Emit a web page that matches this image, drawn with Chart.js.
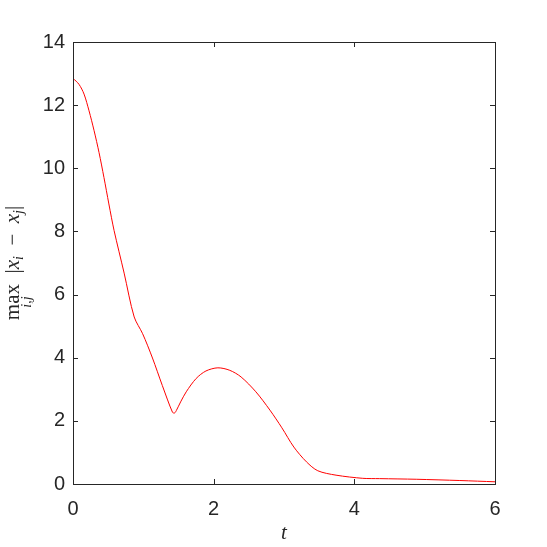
<!DOCTYPE html>
<html>
<head>
<meta charset="utf-8">
<script src="https://cdn.jsdelivr.net/npm/chart.js@4"></script>
<style>
  html, body { margin: 0; padding: 0; background: #fff; }
  #wrap { width: 547px; height: 547px; }
</style>
</head>
<body>
<div id="wrap"><canvas id="myChart" width="547" height="547"></canvas></div>
<script>
const times = [0, 0.085, 0.157, 0.228, 0.30, 0.37, 0.44, 0.51, 0.584, 0.727, 0.87, 0.99, 1.13, 1.27, 1.415, 1.445, 1.47, 1.53, 1.61, 1.75, 1.89, 2.06, 2.23, 2.39, 2.60, 2.80, 2.97, 3.14, 3.32, 3.48, 3.74, 4.12, 4.36, 4.88, 5.5, 6];
const spread = [12.85, 12.66, 12.35, 11.82, 11.19, 10.50, 9.71, 8.87, 8.03, 6.68, 5.29, 4.76, 3.99, 3.12, 2.27, 2.25, 2.33, 2.6, 2.92, 3.34, 3.58, 3.68, 3.60, 3.39, 2.92, 2.34, 1.78, 1.17, 0.70, 0.42, 0.28, 0.18, 0.17, 0.15, 0.11, 0.07];
const xTicks = [0, 2, 4, 6];
const yTicks = [0, 2, 4, 6, 8, 10, 12, 14];

const axisColor = "#262626";
const serif = "'Liberation Serif', 'DejaVu Serif', serif";
const sans = "'Liberation Sans', Arial, sans-serif";
const ctx = document.getElementById("myChart");

const boxPlugin = {
  id: "box",
  afterDraw(chart) {
    const c = chart.ctx;
    const a = chart.chartArea;
    const xs = chart.scales.x;
    const ys = chart.scales.y;
    c.save();
    c.strokeStyle = axisColor;
    c.lineWidth = 1;
    c.strokeRect(a.left + 0.5, a.top + 0.5, a.right - a.left, a.bottom - a.top);
    c.beginPath();
    xTicks.forEach(function (v) {
      const px = Math.round(xs.getPixelForValue(v)) + 0.5;
      c.moveTo(px, a.bottom); c.lineTo(px, a.bottom - 5);
      c.moveTo(px, a.top); c.lineTo(px, a.top + 5);
    });
    yTicks.forEach(function (v) {
      const py = Math.round(ys.getPixelForValue(v)) + 0.5;
      c.moveTo(a.left, py); c.lineTo(a.left + 5, py);
      c.moveTo(a.right, py); c.lineTo(a.right - 5, py);
    });
    c.stroke();

    // axis titles
    c.fillStyle = axisColor;
    c.font = "italic 21px " + serif;
    c.textAlign = "center";
    c.textBaseline = "alphabetic";
    c.fillText("t", (a.left + a.right) / 2, 539);

    c.translate(19, (a.top + a.bottom) / 2);
    c.rotate(-Math.PI / 2);
    c.textAlign = "left";
    const parts = [
      ["max", "21px " + serif, 0],
      ["  |", "21px " + serif, 0],
      ["x", "italic 21px " + serif, 0],
      ["i", "italic 14px " + serif, 4],
      ["  \u2212  ", "21px " + serif, 0],
      ["x", "italic 21px " + serif, 0],
      ["j", "italic 14px " + serif, 4],
      ["|", "21px " + serif, 0]
    ];
    let total = 0;
    parts.forEach(function (p) { c.font = p[1]; total += c.measureText(p[0]).width; });
    let x = -total / 2;
    let maxW = 0;
    parts.forEach(function (p, k) {
      c.font = p[1];
      c.fillText(p[0], x, p[2]);
      const w = c.measureText(p[0]).width;
      if (k === 0) maxW = w;
      x += w;
    });
    c.font = "italic 14px " + serif;
    c.textAlign = "center";
    c.fillText("i,j", -total / 2 + maxW / 2, 12);
    c.restore();
  }
};

const myChart = new Chart(ctx, {
  type: "line",
  data: {
    datasets: [
      {
        label: "max |xi - xj|",
        data: times.map(function (t, i) { return { x: t, y: spread[i] }; }),
        borderColor: "rgb(255, 0, 0)",
        borderWidth: 1,
        pointRadius: 0,
        fill: false,
        tension: 0.3
      }
    ]
  },
  options: {
    responsive: false,
    animation: false,
    layout: { padding: { left: 0, top: 42, right: 52, bottom: 0 } },
    plugins: { legend: { display: false }, tooltip: { enabled: false } },
    scales: {
      x: {
        type: "linear",
        min: 0,
        max: 6,
        afterFit(scale) { scale.height = 63; },
        afterBuildTicks(scale) { scale.ticks = xTicks.map(function (v) { return { value: v }; }); },
        grid: { display: false, drawTicks: false },
        border: { display: false },
        ticks: { color: axisColor, padding: 13, font: { family: sans, size: 20 } }
      },
      y: {
        min: 0,
        max: 14,
        afterFit(scale) { scale.width = 73; },
        afterBuildTicks(scale) { scale.ticks = yTicks.map(function (v) { return { value: v }; }); },
        grid: { display: false, drawTicks: false },
        border: { display: false },
        ticks: { color: axisColor, padding: 8, font: { family: sans, size: 20 } }
      }
    }
  },
  plugins: [boxPlugin]
});
</script>
</body>
</html>
